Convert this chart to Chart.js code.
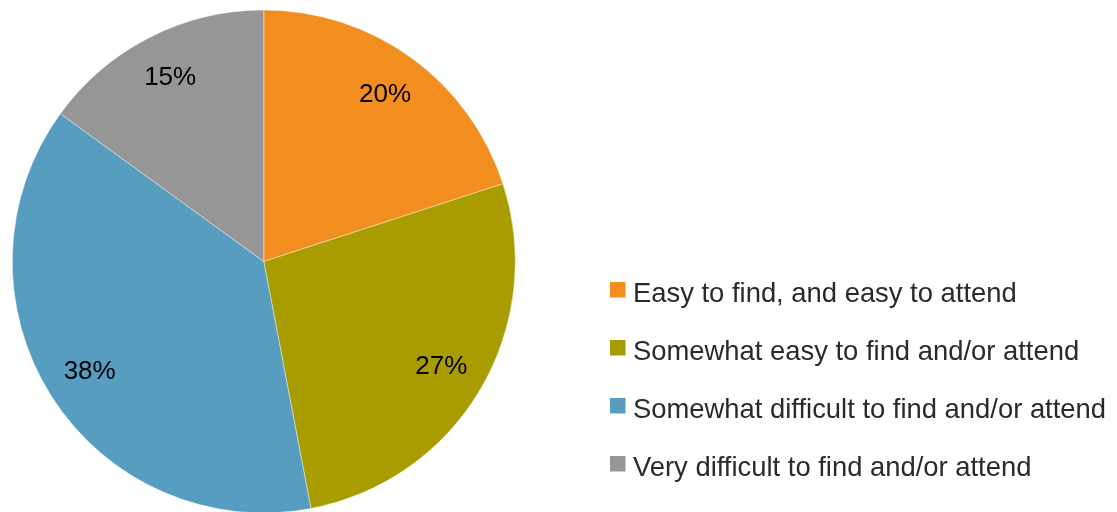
<!DOCTYPE html>
<html><head><meta charset="utf-8">
<script src="https://cdn.jsdelivr.net/npm/chart.js@4.4.1/dist/chart.umd.min.js"></script>
<style>html,body{margin:0;padding:0;background:#fff;overflow:hidden;}#wrap{width:1117px;height:512px;position:relative;overflow:hidden;}</style>
</head><body><div id="wrap"><canvas id="c" width="1117" height="516"></canvas></div>
<script>
const categories = ["Easy to find, and easy to attend","Somewhat easy to find and/or attend","Somewhat difficult to find and/or attend","Very difficult to find and/or attend"];
const values = [20, 27, 38, 15];
const colors = ["#F28E1F","#A89C00","#569DC0","#969696"];

const labelPlugin = {
  id: 'sliceLabels',
  afterDatasetsDraw(chart) {
    const ctx = chart.ctx;
    const meta = chart.getDatasetMeta(0);
    ctx.save();
    ctx.font = '26px "Liberation Sans", Arial, sans-serif';
    ctx.fillStyle = '#000';
    ctx.textAlign = 'center';
    ctx.textBaseline = 'middle';
    meta.data.forEach((arc, i) => {
      const p = arc.getProps(['x','y','startAngle','endAngle','outerRadius'], true);
      const mid = (p.startAngle + p.endAngle) / 2;
      const r = p.outerRadius * 0.82;
      ctx.fillText(values[i] + '%', p.x + Math.cos(mid) * r, p.y + Math.sin(mid) * r);
    });
    ctx.restore();
  }
};

const legendPlugin = {
  id: 'customLegend',
  afterDraw(chart) {
    const ctx = chart.ctx;
    ctx.save();
    ctx.font = '27.4px "Liberation Sans", Arial, sans-serif';
    ctx.textBaseline = 'alphabetic';
    ctx.textAlign = 'left';
    chart.data.labels.forEach((lab, i) => {
      const base = 302 + 58 * i;
      ctx.fillStyle = chart.data.datasets[0].backgroundColor[i];
      ctx.fillRect(610, base - 20, 15.5, 15.5);
      ctx.fillStyle = '#2a2a2a';
      ctx.fillText(lab, 633, base);
    });
    ctx.restore();
  }
};

new Chart(document.getElementById('c'), {
  type: 'pie',
  data: { labels: categories, datasets: [{ data: values, backgroundColor: colors, borderColor: 'rgba(255,255,255,0.4)', borderWidth: 1 }] },
  options: {
    responsive: false, animation: false,
    layout: { padding: { left: 11.8, top: 9.5, bottom: 2.5, right: 601.2 } },
    plugins: { legend: { display: false }, tooltip: { enabled: false } }
  },
  plugins: [labelPlugin, legendPlugin]
});
</script></body></html>
